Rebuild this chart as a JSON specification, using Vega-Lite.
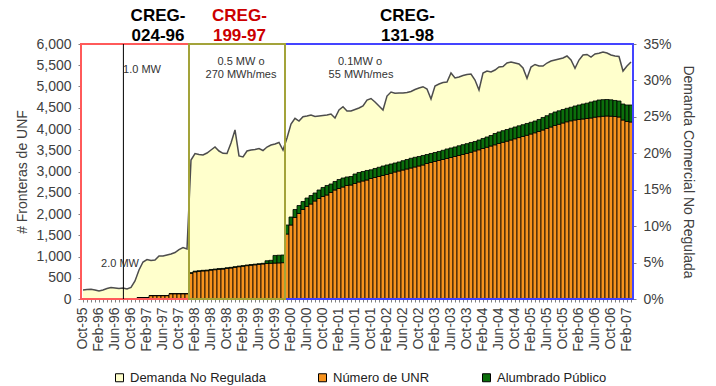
{
 "$schema": "https://vega.github.io/schema/vega-lite/v6.json",
 "width": 552, "height": 255,
 "autosize": {"type": "none"},
 "padding": {"left": 81, "top": 44, "right": 83, "bottom": 87},
 "background": "white",
 "config": {
  "view": {"stroke": null},
  "font": "Liberation Sans",
  "axis": {"labelFont": "Liberation Sans", "titleFont": "Liberation Sans", "labelColor": "#404040", "titleColor": "#404040", "labelFontSize": 14, "titleFontSize": 14, "titleFontWeight": "normal", "grid": false, "tickColor": "#808080", "domainColor": "#808080", "tickSize": 3}
 },
 "datasets": {
  "main": [
   {"m":"Oct-95","d":1.24,"u":0,"a":0},{"m":"Nov-95","d":1.30,"u":0,"a":0},{"m":"Dec-95","d":1.33,"u":0,"a":0},
   {"m":"Jan-96","d":1.24,"u":0,"a":0},{"m":"Feb-96","d":1.10,"u":0,"a":0},{"m":"Mar-96","d":1.24,"u":0,"a":0},
   {"m":"Apr-96","d":1.44,"u":0,"a":0},{"m":"May-96","d":1.58,"u":0,"a":0},{"m":"Jun-96","d":1.51,"u":0,"a":0},
   {"m":"Jul-96","d":1.44,"u":0,"a":0},{"m":"Aug-96","d":1.51,"u":0,"a":0},{"m":"Sep-96","d":1.37,"u":0,"a":0},
   {"m":"Oct-96","d":1.58,"u":0,"a":0},{"m":"Nov-96","d":2.47,"u":0,"a":0},{"m":"Dec-96","d":3.98,"u":35,"a":0},
   {"m":"Jan-97","d":5.08,"u":35,"a":0},{"m":"Feb-97","d":5.42,"u":35,"a":0},{"m":"Mar-97","d":5.28,"u":80,"a":0},
   {"m":"Apr-97","d":5.35,"u":80,"a":0},{"m":"May-97","d":5.90,"u":80,"a":0},{"m":"Jun-97","d":5.90,"u":80,"a":0},
   {"m":"Jul-97","d":6.04,"u":80,"a":0},{"m":"Aug-97","d":6.18,"u":125,"a":0},{"m":"Sep-97","d":6.38,"u":125,"a":0},
   {"m":"Oct-97","d":6.79,"u":125,"a":0},{"m":"Nov-97","d":7.07,"u":125,"a":0},{"m":"Dec-97","d":6.86,"u":125,"a":0},
   {"m":"Jan-98","d":19.08,"u":605,"a":15},{"m":"Feb-98","d":19.97,"u":640,"a":15},{"m":"Mar-98","d":19.83,"u":650,"a":15},
   {"m":"Apr-98","d":19.76,"u":660,"a":15},{"m":"May-98","d":20.04,"u":665,"a":15},{"m":"Jun-98","d":20.45,"u":680,"a":15},
   {"m":"Jul-98","d":20.86,"u":690,"a":15},{"m":"Aug-98","d":20.31,"u":700,"a":15},{"m":"Sep-98","d":20.00,"u":705,"a":15},
   {"m":"Oct-98","d":19.97,"u":720,"a":15},{"m":"Nov-98","d":21.41,"u":730,"a":15},{"m":"Dec-98","d":23.20,"u":745,"a":15},
   {"m":"Jan-99","d":19.63,"u":760,"a":15},{"m":"Feb-99","d":19.49,"u":770,"a":15},{"m":"Mar-99","d":20.31,"u":785,"a":15},
   {"m":"Apr-99","d":20.45,"u":795,"a":15},{"m":"May-99","d":20.52,"u":805,"a":15},{"m":"Jun-99","d":20.66,"u":815,"a":15},
   {"m":"Jul-99","d":20.38,"u":825,"a":15},{"m":"Aug-99","d":20.86,"u":835,"a":65},{"m":"Sep-99","d":21.14,"u":840,"a":70},
   {"m":"Oct-99","d":21.27,"u":845,"a":180},{"m":"Nov-99","d":21.48,"u":850,"a":180},{"m":"Dec-99","d":20.45,"u":855,"a":180},
   {"m":"Jan-00","d":22.10,"u":1529,"a":212},{"m":"Feb-00","d":24.02,"u":1741,"a":188},{"m":"Mar-00","d":24.80,"u":1918,"a":188},
   {"m":"Apr-00","d":24.43,"u":2012,"a":188},{"m":"May-00","d":25.02,"u":2106,"a":188},{"m":"Jun-00","d":25.12,"u":2177,"a":199},
   {"m":"Jul-00","d":25.25,"u":2235,"a":200},{"m":"Aug-00","d":25.05,"u":2306,"a":188},{"m":"Sep-00","d":25.12,"u":2365,"a":200},
   {"m":"Oct-00","d":25.19,"u":2412,"a":212},{"m":"Nov-00","d":25.25,"u":2447,"a":224},{"m":"Dec-00","d":25.39,"u":2506,"a":200},
   {"m":"Jan-01","d":24.84,"u":2565,"a":200},{"m":"Feb-01","d":25.94,"u":2600,"a":212},{"m":"Mar-01","d":26.39,"u":2635,"a":212},
   {"m":"Apr-01","d":25.80,"u":2671,"a":200},{"m":"May-01","d":25.80,"u":2682,"a":200},{"m":"Jun-01","d":26.01,"u":2718,"a":223},
   {"m":"Jul-01","d":26.21,"u":2753,"a":224},{"m":"Aug-01","d":26.49,"u":2777,"a":223},{"m":"Sep-01","d":27.31,"u":2800,"a":224},
   {"m":"Oct-01","d":27.52,"u":2835,"a":205},{"m":"Nov-01","d":27.04,"u":2859,"a":212},{"m":"Dec-01","d":26.49,"u":2882,"a":217},
   {"m":"Jan-02","d":25.94,"u":2906,"a":223},{"m":"Feb-02","d":27.86,"u":2930,"a":223},{"m":"Mar-02","d":28.41,"u":2958,"a":218},
   {"m":"Apr-02","d":28.23,"u":2988,"a":212},{"m":"May-02","d":28.27,"u":3012,"a":212},{"m":"Jun-02","d":28.27,"u":3035,"a":219},
   {"m":"Jul-02","d":28.34,"u":3059,"a":223},{"m":"Aug-02","d":28.48,"u":3082,"a":229},{"m":"Sep-02","d":28.75,"u":3106,"a":228},
   {"m":"Oct-02","d":28.96,"u":3130,"a":223},{"m":"Nov-02","d":29.14,"u":3153,"a":224},{"m":"Dec-02","d":28.82,"u":3188,"a":212},
   {"m":"Jan-03","d":27.45,"u":3212,"a":212},{"m":"Feb-03","d":29.23,"u":3235,"a":212},{"m":"Mar-03","d":29.51,"u":3259,"a":212},
   {"m":"Apr-03","d":29.71,"u":3282,"a":217},{"m":"May-03","d":29.78,"u":3306,"a":224},{"m":"Jun-03","d":31.02,"u":3329,"a":224},
   {"m":"Jul-03","d":30.33,"u":3353,"a":224},{"m":"Aug-03","d":30.47,"u":3377,"a":228},{"m":"Sep-03","d":30.67,"u":3400,"a":231},
   {"m":"Oct-03","d":30.81,"u":3424,"a":231},{"m":"Nov-03","d":30.88,"u":3452,"a":231},{"m":"Dec-03","d":30.06,"u":3483,"a":223},
   {"m":"Jan-04","d":28.69,"u":3511,"a":230},{"m":"Feb-04","d":31.02,"u":3541,"a":236},{"m":"Mar-04","d":31.29,"u":3570,"a":242},
   {"m":"Apr-04","d":31.16,"u":3600,"a":247},{"m":"May-04","d":31.43,"u":3628,"a":266},{"m":"Jun-04","d":31.84,"u":3659,"a":271},
   {"m":"Jul-04","d":31.91,"u":3687,"a":273},{"m":"Aug-04","d":32.39,"u":3713,"a":275},{"m":"Sep-04","d":32.53,"u":3741,"a":276},
   {"m":"Oct-04","d":32.39,"u":3770,"a":277},{"m":"Nov-04","d":32.25,"u":3798,"a":277},{"m":"Dec-04","d":31.70,"u":3824,"a":277},
   {"m":"Jan-05","d":30.29,"u":3852,"a":278},{"m":"Feb-05","d":31.84,"u":3882,"a":276},{"m":"Mar-05","d":32.19,"u":3911,"a":277},
   {"m":"Apr-05","d":31.98,"u":3941,"a":283},{"m":"May-05","d":31.98,"u":3977,"a":294},{"m":"Jun-05","d":32.39,"u":4012,"a":301},
   {"m":"Jul-05","d":32.67,"u":4047,"a":313},{"m":"Aug-05","d":32.80,"u":4083,"a":317},{"m":"Sep-05","d":32.94,"u":4111,"a":317},
   {"m":"Oct-05","d":33.08,"u":4141,"a":318},{"m":"Nov-05","d":33.35,"u":4170,"a":317},{"m":"Dec-05","d":32.80,"u":4193,"a":318},
   {"m":"Jan-06","d":31.66,"u":4212,"a":329},{"m":"Feb-06","d":32.80,"u":4224,"a":341},{"m":"Mar-06","d":33.49,"u":4236,"a":352},
   {"m":"Apr-06","d":33.56,"u":4247,"a":360},{"m":"May-06","d":33.21,"u":4259,"a":376},{"m":"Jun-06","d":33.63,"u":4278,"a":381},
   {"m":"Jul-06","d":33.72,"u":4290,"a":392},{"m":"Aug-06","d":33.90,"u":4299,"a":391},{"m":"Sep-06","d":33.76,"u":4306,"a":388},
   {"m":"Oct-06","d":33.49,"u":4301,"a":386},{"m":"Nov-06","d":33.35,"u":4294,"a":377},{"m":"Dec-06","d":33.28,"u":4282,"a":377},
   {"m":"Jan-07","d":31.29,"u":4212,"a":376},{"m":"Feb-07","d":31.98,"u":4177,"a":388},{"m":"Mar-07","d":32.53,"u":4165,"a":400}
  ],
  "boxes": [
   {"r":"CREG-024-96","s":0,"e":27},
   {"r":"CREG-131-98","s":51,"e":138},
   {"r":"CREG-199-97","s":27,"e":51}
  ],
  "cregBlack": [
   {"t":"CREG-","x":19.25,"y":6541},{"t":"024-96","x":19.25,"y":6071},
   {"t":"CREG-","x":81.6,"y":6541},{"t":"131-98","x":81.6,"y":6071}
  ],
  "cregRed": [
   {"t":"CREG-","x":39.6,"y":6541},{"t":"199-97","x":39.6,"y":6071}
  ],
  "notes": [
   {"t":"1.0 MW","x":15.25,"y":5318},
   {"t":"2.0 MW","x":9.75,"y":753},
   {"t":"0.5 MW o","x":40,"y":5506},
   {"t":"270 MWh/mes","x":40,"y":5200},
   {"t":"0.1MW o","x":69.75,"y":5506},
   {"t":"55 MWh/mes","x":70,"y":5200}
  ]
 },
 "resolve": {"scale": {"x": "independent", "y": "independent"}},
 "layer": [
  {
   "data": {"name": "main"},
   "mark": {"type": "area", "opacity": 1},
   "encoding": {
    "x": {"field": "m", "type": "ordinal", "sort": null, "scale": {"type": "point", "padding": 0.5}, "axis": null},
    "y": {"field": "d", "type": "quantitative", "scale": {"domain": [0, 35], "nice": false},
          "axis": {"orient": "right", "values": [0,5,10,15,20,25,30,35], "labelExpr": "datum.value + '%'", "title": "Demanda Comercial No Regulada", "titlePadding": 9, "labelPadding": 7, "domain": false}},
    "color": {"datum": "d", "type": "nominal", "scale": {"domain": ["d","u","a"], "range": ["#FFFFCC","#F7931E","#0B6E0B"]}}
   }
  },
  {
   "data": {"name": "main"},
   "mark": {"type": "line", "color": "#4D4D4D", "strokeWidth": 1.5},
   "encoding": {
    "x": {"field": "m", "type": "ordinal", "sort": null, "scale": {"type": "point", "padding": 0.5}, "axis": null},
    "y": {"field": "d", "type": "quantitative", "scale": {"domain": [0, 35], "nice": false}, "axis": null}
   }
  },
  {
   "data": {"name": "main"},
   "transform": [{"fold": ["u", "a"], "as": ["k", "v"]}],
   "mark": {"type": "bar", "stroke": "#000000", "strokeWidth": 0.8, "opacity": 1},
   "encoding": {
    "x": {"field": "m", "type": "ordinal", "sort": null, "scale": {"type": "band", "paddingInner": 0, "paddingOuter": 0},
          "axis": {"orient": "bottom", "labelAngle": 270, "labelExpr": "indexof(['Oct','Feb','Jun'], slice(datum.value,0,3)) >= 0 ? datum.value : ''", "labelOverlap": false, "labelPadding": 5, "domain": false, "title": null}},
    "y": {"field": "v", "type": "quantitative", "stack": "zero", "scale": {"domain": [0, 6000], "nice": false},
          "axis": {"orient": "left", "values": [0,500,1000,1500,2000,2500,3000,3500,4000,4500,5000,5500,6000], "format": ",.0f", "title": "# Fronteras de UNF", "labelPadding": 7, "titlePadding": 6}},
    "color": {"field": "k", "type": "nominal", "scale": {"domain": ["d","u","a"], "range": ["#FFFFCC","#F7931E","#0B6E0B"]},
              "legend": {"orient": "none", "legendX": 32, "legendY": 327, "direction": "horizontal", "columns": 3, "columnPadding": 50, "title": null, "symbolType": "square", "symbolSize": 64, "symbolStrokeColor": "#000000", "symbolStrokeWidth": 1, "symbolOpacity": 1, "labelFontSize": 13, "labelColor": "#222222", "labelFont": "Liberation Sans", "labelOffset": 4,
                         "labelExpr": "datum.label == 'd' ? 'Demanda No Regulada' : datum.label == 'u' ? 'Número de UNR' : 'Alumbrado Público'"}},
    "order": {"field": "k", "sort": "descending"}
   }
  },
  {
   "data": {"name": "boxes"},
   "mark": {"type": "rect", "filled": false, "strokeWidth": 2},
   "encoding": {
    "x": {"field": "s", "type": "quantitative", "scale": {"domain": [0, 138], "nice": false, "zero": false}, "axis": null},
    "x2": {"field": "e"},
    "y": {"datum": 0, "type": "quantitative", "scale": {"domain": [0, 6000], "nice": false}, "axis": null},
    "y2": {"datum": 6000},
    "stroke": {"field": "r", "type": "nominal", "scale": {"domain": ["CREG-024-96","CREG-199-97","CREG-131-98"], "range": ["#FF5A5A","#A3A33A","#4444FF"]}, "legend": null}
   }
  },
  {
   "data": {"values": [{"i": 10.6}]},
   "mark": {"type": "rule", "color": "#000000", "strokeWidth": 1},
   "encoding": {
    "x": {"field": "i", "type": "quantitative", "scale": {"domain": [0, 138], "nice": false, "zero": false}, "axis": null},
    "y": {"datum": 0, "type": "quantitative", "scale": {"domain": [0, 6000], "nice": false}, "axis": null},
    "y2": {"datum": 6000}
   }
  },
  {
   "data": {"name": "cregBlack"},
   "mark": {"type": "text", "font": "Liberation Sans", "fontWeight": "bold", "fontSize": 17, "color": "#000000", "align": "center", "baseline": "alphabetic"},
   "encoding": {
    "x": {"field": "x", "type": "quantitative", "scale": {"domain": [0, 138], "nice": false, "zero": false}, "axis": null},
    "y": {"field": "y", "type": "quantitative", "scale": {"domain": [0, 6000], "nice": false}, "axis": null},
    "text": {"field": "t"}
   }
  },
  {
   "data": {"name": "cregRed"},
   "mark": {"type": "text", "font": "Liberation Sans", "fontWeight": "bold", "fontSize": 17, "color": "#CC0000", "align": "center", "baseline": "alphabetic"},
   "encoding": {
    "x": {"field": "x", "type": "quantitative", "scale": {"domain": [0, 138], "nice": false, "zero": false}, "axis": null},
    "y": {"field": "y", "type": "quantitative", "scale": {"domain": [0, 6000], "nice": false}, "axis": null},
    "text": {"field": "t"}
   }
  },
  {
   "data": {"name": "notes"},
   "mark": {"type": "text", "font": "Liberation Sans", "fontSize": 11, "color": "#333333", "align": "center", "baseline": "alphabetic"},
   "encoding": {
    "x": {"field": "x", "type": "quantitative", "scale": {"domain": [0, 138], "nice": false, "zero": false}, "axis": null},
    "y": {"field": "y", "type": "quantitative", "scale": {"domain": [0, 6000], "nice": false}, "axis": null},
    "text": {"field": "t"}
   }
  }
 ]
}
